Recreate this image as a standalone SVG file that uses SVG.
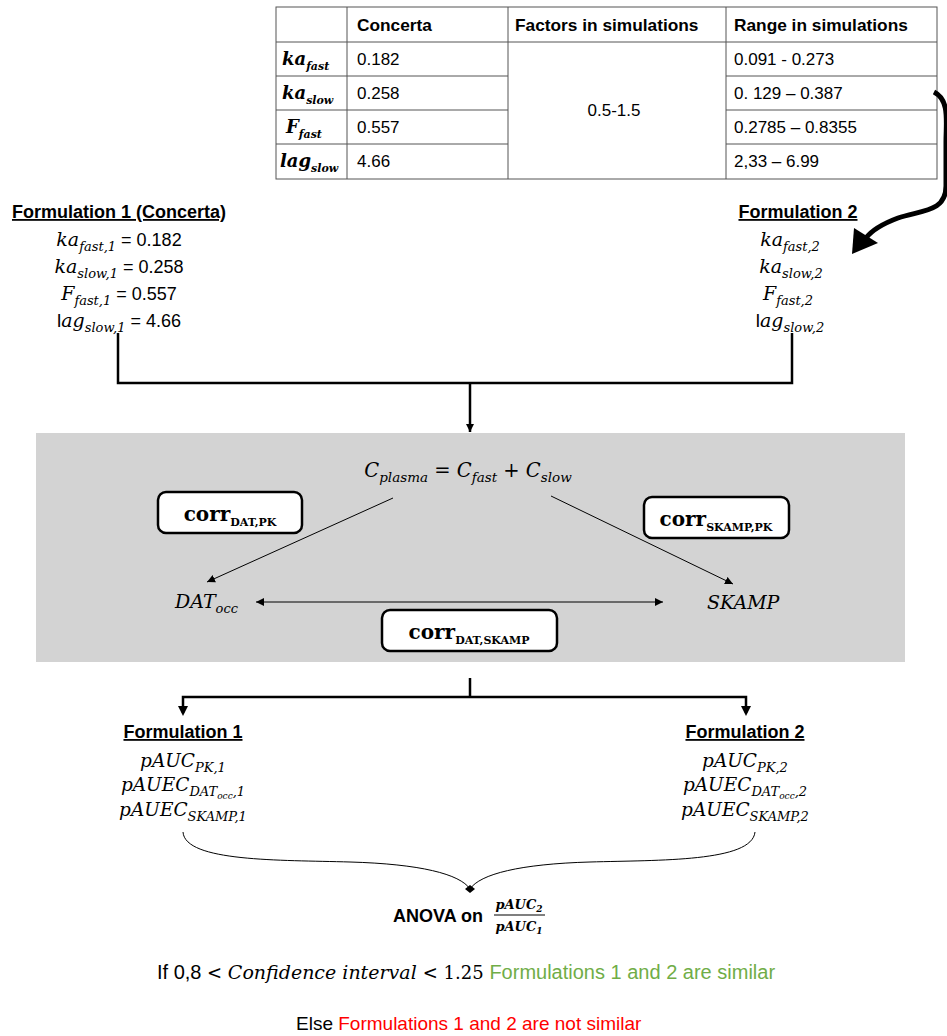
<svg xmlns="http://www.w3.org/2000/svg" width="947" height="1036" viewBox="0 0 947 1036">
<defs>
<style>
.sans{font-family:"Liberation Sans",Arial,sans-serif;fill:#000}
.hdr{font-family:"Liberation Sans",Arial,sans-serif;font-weight:bold;font-size:17.3px}
.cell{font-family:"Liberation Sans",Arial,sans-serif;font-size:17px}
.math{font-family:"DejaVu Serif","Liberation Serif",serif;font-style:italic}
.mb{font-family:"DejaVu Serif","Liberation Serif",serif;font-style:italic;font-weight:bold}
.corr{font-family:"DejaVu Serif","Liberation Serif",serif;font-weight:bold}
.grid{stroke:#555;stroke-width:1;fill:none}
.conn{stroke:#000;stroke-width:2.5;fill:none}
.thin{stroke:#000;stroke-width:1;fill:none}
.box{fill:#fff;stroke:#000;stroke-width:2.5}
.u{text-decoration:underline}
</style>
<marker id="ah" viewBox="0 0 10 10" refX="10" refY="5" markerWidth="8" markerHeight="8" markerUnits="userSpaceOnUse" orient="auto">
<path d="M0,0 L10,5 L0,10 z" fill="#000"/>
</marker>
<marker id="ahs" viewBox="0 0 10 10" refX="10" refY="5" markerWidth="8" markerHeight="8" markerUnits="userSpaceOnUse" orient="auto-start-reverse">
<path d="M0,0 L10,5 L0,10 z" fill="#000"/>
</marker>
</defs>
<rect x="0" y="0" width="947" height="1036" fill="#fff"/>

<g id="table">
<rect x="276" y="7" width="661" height="172" fill="#fff" stroke="#555"/>
<line class="grid" x1="347" y1="7" x2="347" y2="179"/>
<line class="grid" x1="508" y1="7" x2="508" y2="179"/>
<line class="grid" x1="726" y1="7" x2="726" y2="179"/>
<line class="grid" x1="276" y1="42" x2="937" y2="42"/>
<line class="grid" x1="276" y1="76" x2="508" y2="76"/>
<line class="grid" x1="726" y1="76" x2="937" y2="76"/>
<line class="grid" x1="276" y1="110" x2="508" y2="110"/>
<line class="grid" x1="726" y1="110" x2="937" y2="110"/>
<line class="grid" x1="276" y1="144" x2="508" y2="144"/>
<line class="grid" x1="726" y1="144" x2="937" y2="144"/>
<text class="hdr" x="357" y="31">Concerta</text>
<text class="hdr" x="515" y="31">Factors in simulations</text>
<text class="hdr" x="734" y="31">Range in simulations</text>
<text class="mb" x="282" y="65" font-size="18">ka<tspan font-size="11" dy="5">fast</tspan></text>
<text class="mb" x="282" y="99" font-size="18">ka<tspan font-size="11" dy="5">slow</tspan></text>
<text class="mb" x="286" y="133" font-size="18">F<tspan font-size="11" dy="5">fast</tspan></text>
<text class="mb" x="280" y="167" font-size="18">lag<tspan font-size="11" dy="5">slow</tspan></text>
<text class="cell" x="357" y="65">0.182</text>
<text class="cell" x="357" y="99">0.258</text>
<text class="cell" x="357" y="133">0.557</text>
<text class="cell" x="357" y="167">4.66</text>
<text class="cell" x="614" y="116" text-anchor="middle">0.5-1.5</text>
<text class="cell" x="734" y="65">0.091 - 0.273</text>
<text class="cell" x="734" y="99">0. 129 – 0.387</text>
<text class="cell" x="734" y="133">0.2785 – 0.8355</text>
<text class="cell" x="734" y="167">2,33 – 6.99</text>
</g>

<g id="curved-arrow">
<path d="M934 92 C950 100 946 122 946 142 L946 186 C946 212 922 210 898 218 C882 224 872 230 866 238" fill="none" stroke="#000" stroke-width="5"/>
<polygon points="852,254 854,228 878,243" fill="#000"/>
</g>

<g id="formulation1-top">
<text class="sans u" x="119" y="218" font-size="18" font-weight="bold" text-anchor="middle">Formulation 1 (Concerta)</text>
<text x="119" y="246" text-anchor="middle"><tspan class="math" font-size="19">ka</tspan><tspan class="math" font-size="13" dy="5">fast,1</tspan><tspan class="sans" font-size="18" dy="-5"> = 0.182</tspan></text>
<text x="119" y="273" text-anchor="middle"><tspan class="math" font-size="19">ka</tspan><tspan class="math" font-size="13" dy="5">slow,1</tspan><tspan class="sans" font-size="18" dy="-5"> = 0.258</tspan></text>
<text x="119" y="300" text-anchor="middle"><tspan class="math" font-size="19">F</tspan><tspan class="math" font-size="13" dy="5">fast,1</tspan><tspan class="sans" font-size="18" dy="-5"> = 0.557</tspan></text>
<text x="119" y="327" text-anchor="middle"><tspan class="sans" font-size="19">l</tspan><tspan class="math" font-size="19">ag</tspan><tspan class="math" font-size="13" dy="5">slow,1</tspan><tspan class="sans" font-size="18" dy="-5"> = 4.66</tspan></text>
</g>

<g id="formulation2-top">
<text class="sans u" x="798" y="218" font-size="18" font-weight="bold" text-anchor="middle">Formulation 2</text>
<text x="790" y="246" text-anchor="middle"><tspan class="math" font-size="19">ka</tspan><tspan class="math" font-size="13" dy="5">fast,2</tspan></text>
<text x="791" y="273" text-anchor="middle"><tspan class="math" font-size="19">ka</tspan><tspan class="math" font-size="13" dy="5">slow,2</tspan></text>
<text x="788" y="300" text-anchor="middle"><tspan class="math" font-size="19">F</tspan><tspan class="math" font-size="13" dy="5">fast,2</tspan></text>
<text x="790" y="327" text-anchor="middle"><tspan class="sans" font-size="19">l</tspan><tspan class="math" font-size="19">ag</tspan><tspan class="math" font-size="13" dy="5">slow,2</tspan></text>
</g>

<g id="model-panel">
<rect x="36" y="433" width="869" height="229" fill="#d3d3d3"/>
</g>

<g id="connectors">
<polyline class="conn" points="118,333 118,383 792,383 792,333"/>
<line class="conn" x1="470" y1="383" x2="470" y2="432" marker-end="url(#ah)"/>
<line class="thin" x1="393" y1="498" x2="207" y2="582" marker-end="url(#ah)"/>
<line class="thin" x1="551" y1="496" x2="733" y2="584" marker-end="url(#ah)"/>
<line class="thin" x1="256" y1="602" x2="663" y2="602" marker-start="url(#ahs)" marker-end="url(#ah)"/>
<line class="conn" x1="470" y1="678" x2="470" y2="697"/>
<polyline class="conn" points="183,713 183,697 746,697 746,713"/>
<polygon points="178,706 188,706 183,716" fill="#000"/>
<polygon points="741,706 751,706 746,716" fill="#000"/>
<path class="thin" d="M183 832 C185 862 280 860 350 862 C420 864 460 874 470 889"/>
<path class="thin" d="M755 832 C752 862 660 860 590 862 C520 864 480 874 470 889"/>
<polygon points="470,885 475,889 470,893 465,889" fill="#000"/>
</g>

<g id="c-plasma">
<text x="468" y="477" text-anchor="middle" class="math" font-size="19.5">C<tspan font-size="13.5" dy="5">plasma</tspan><tspan font-style="normal" dy="-5"> = </tspan>C<tspan font-size="13.5" dy="5">fast</tspan><tspan font-style="normal" dy="-5"> + </tspan>C<tspan font-size="13.5" dy="5">slow</tspan></text>
</g>
<g id="dat-occ">
<text x="175" y="608" class="math" font-size="19">DAT<tspan font-size="13" dy="5">occ</tspan></text>
</g>
<g id="skamp">
<text x="707" y="609" class="math" font-size="19">SKAMP</text>
</g>
<g id="corr-dat-pk">
<rect class="box" x="158" y="492" width="144" height="41" rx="8"/>
<text x="230" y="521" text-anchor="middle" class="corr" font-size="20">corr<tspan font-size="11" dy="5">DAT,PK</tspan></text>
</g>
<g id="corr-skamp-pk">
<rect class="box" x="644" y="497" width="145" height="41" rx="8"/>
<text x="716" y="526" text-anchor="middle" class="corr" font-size="20">corr<tspan font-size="11" dy="5">SKAMP,PK</tspan></text>
</g>
<g id="corr-dat-skamp">
<rect class="box" x="382" y="610" width="175" height="41" rx="8"/>
<text x="469" y="639" text-anchor="middle" class="corr" font-size="20">corr<tspan font-size="11" dy="5">DAT,SKAMP</tspan></text>
</g>

<g id="formulation1-bottom">
<text class="sans u" x="183" y="738" font-size="18" font-weight="bold" text-anchor="middle">Formulation 1</text>
<text x="183" y="767" text-anchor="middle" class="math" font-size="18.5">pAUC<tspan font-size="13" dy="5">PK,1</tspan></text>
<text x="183" y="791" text-anchor="middle" class="math" font-size="18.5">pAUEC<tspan font-size="13" dy="5">DAT<tspan font-size="9" dy="3">occ</tspan><tspan dy="-3">,1</tspan></tspan></text>
<text x="183" y="816" text-anchor="middle" class="math" font-size="18.5">pAUEC<tspan font-size="13" dy="5">SKAMP,1</tspan></text>
</g>

<g id="formulation2-bottom">
<text class="sans u" x="745" y="738" font-size="18" font-weight="bold" text-anchor="middle">Formulation 2</text>
<text x="745" y="767" text-anchor="middle" class="math" font-size="18.5">pAUC<tspan font-size="13" dy="5">PK,2</tspan></text>
<text x="745" y="791" text-anchor="middle" class="math" font-size="18.5">pAUEC<tspan font-size="13" dy="5">DAT<tspan font-size="9" dy="3">occ</tspan><tspan dy="-3">,2</tspan></tspan></text>
<text x="745" y="816" text-anchor="middle" class="math" font-size="18.5">pAUEC<tspan font-size="13" dy="5">SKAMP,2</tspan></text>
</g>

<g id="anova">
<text class="sans" x="393" y="922" font-size="18" font-weight="bold">ANOVA on</text>
<text x="519" y="909" text-anchor="middle" class="mb" font-size="13">pAUC<tspan font-size="9" dy="3">2</tspan></text>
<line x1="494" y1="915" x2="545" y2="915" stroke="#000" stroke-width="1.2"/>
<text x="519" y="931" text-anchor="middle" class="mb" font-size="13">pAUC<tspan font-size="9" dy="3">1</tspan></text>
</g>

<g id="condition">
<text x="157" y="979" font-size="20"><tspan class="sans">If 0,8 </tspan><tspan font-family="DejaVu Serif,serif" font-size="18"> &lt; </tspan><tspan class="math" font-size="19">Confidence interval </tspan><tspan font-family="DejaVu Serif,serif" font-size="18"> &lt; 1.25 </tspan><tspan class="sans" style="fill:#70ad47">Formulations 1 and 2 are similar</tspan></text>
<text x="296" y="1030" font-size="19"><tspan class="sans">Else </tspan><tspan class="sans" style="fill:#ff0000">Formulations 1 and 2 are not similar</tspan></text>
</g>
</svg>
